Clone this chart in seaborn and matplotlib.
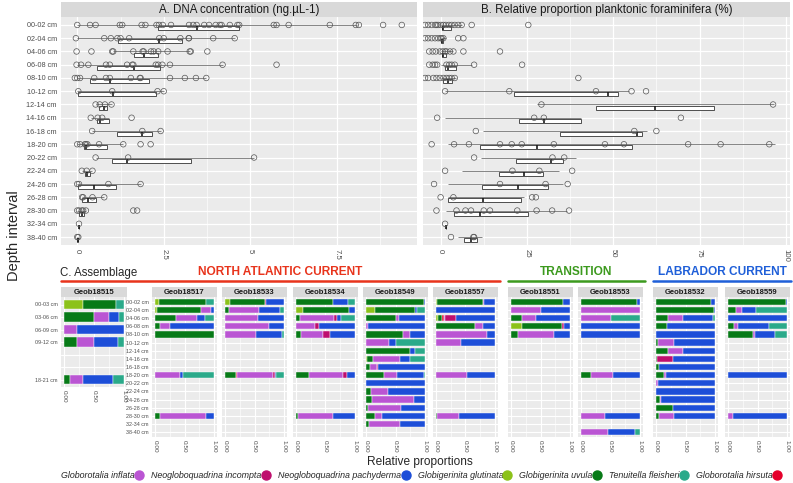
import matplotlib
matplotlib.use("Agg")
import matplotlib.pyplot as plt
from matplotlib.lines import Line2D
import numpy as np
import pandas as pd
import seaborn as sns

sns.set_style("white")
plt.rcParams["font.family"] = ["Liberation Sans", "DejaVu Sans"]

depths = ["00-02 cm", "02-04 cm", "04-06 cm", "06-08 cm", "08-10 cm", "10-12 cm",
          "12-14 cm", "14-16 cm", "16-18 cm", "18-20 cm", "20-22 cm", "22-24 cm",
          "24-26 cm", "26-28 cm", "28-30 cm", "32-34 cm", "38-40 cm"]

# A. DNA concentration, one list of points per depth
dna_points = [
    [0, 0.37, 0.53, 1.23, 1.30, 1.86, 1.97, 2.29, 2.36, 2.47, 2.71, 3.23, 3.35, 3.45, 3.67,
     3.81, 4.00, 4.12, 4.17, 4.41, 4.63, 4.68, 5.68, 5.76, 6.11, 7.30, 8.05, 8.14, 8.84, 9.38],
    [-0.04, 0.78, 0.97, 1.16, 1.25, 1.50, 2.37, 2.50, 2.98, 3.22, 3.23, 3.93, 4.55],
    [-0.02, 0.41, 1.01, 1.04, 1.62, 1.89, 1.92, 2.13, 2.21, 2.34, 2.61, 3.25, 3.28, 3.76],
    [-0.02, 0.11, 0.32, 0.83, 0.94, 1.44, 1.59, 1.62, 2.27, 2.34, 2.46, 2.68, 4.20, 5.76],
    [-0.07, 0.0, 0.08, 0.49, 0.83, 0.94, 1.55, 1.81, 1.83, 2.68, 3.11, 3.43, 3.73],
    [0.03, 1.01, 2.32, 2.50],
    [0.53, 0.65, 0.80, 0.99],
    [0.39, 0.59, 0.72, 1.57],
    [0.43, 1.88, 2.41],
    [0.0, 0.08, 0.22, 0.25, 0.29, 0.63, 1.33, 1.83, 2.12],
    [0.53, 1.47, 5.11],
    [0.13, 0.27, 0.44],
    [0.0, 0.05, 0.90, 1.83],
    [0.14, 0.17, 0.44, 0.78],
    [0.0, 0.05, 0.13, 0.17, 0.25, 1.62, 1.73],
    [0.05],
    [0.0, 0.03],
]
dna_q1 = [2.34, 1.18, 1.65, 0.58, 0.37, 0.01, 0.64, 0.56, 1.14, 0.20, 0.99, 0.22, 0.03, 0.15, 0.05, 0.05, 0.0]
dna_med = [3.45, 2.37, 1.92, 1.64, 0.94, 1.02, 0.77, 0.65, 1.88, 0.25, 1.44, 0.29, 0.48, 0.30, 0.13, 0.05, 0.01]
dna_q3 = [4.68, 3.04, 2.34, 2.39, 2.08, 2.29, 0.87, 0.92, 2.15, 0.85, 3.28, 0.37, 1.13, 0.53, 0.19, 0.05, 0.03]
dna_lo = [0.0, 0.0, 1.04, 0.0, 0.0, 0.0, 0.53, 0.41, 0.43, 0.0, 0.53, 0.13, 0.0, 0.14, 0.0, 0.05, 0.0]
dna_hi = [8.1, 4.55, 3.25, 4.2, 3.73, 2.5, 0.99, 0.92, 2.41, 1.33, 5.11, 0.44, 1.83, 0.78, 0.25, 0.05, 0.03]

# B. relative proportion planktonic foraminifera (%)
pf_points = [
    [-4.5, -3.6, -2.6, -1.6, -1.2, -0.7, 0.1, 0.8, 1.5, 2.4, 3.2, 4.1, 5.1, 6.1, 9.0, 25.4],
    [-4.5, -3.6, -2.6, -1.6, -0.7, 0.0, 0.3, 0.8, 5.1, 6.6],
    [-3.3, -2.3, -1.4, -0.2, 0.6, 1.3, 1.7, 2.7, 3.7, 6.6, 17.2],
    [-3.3, -2.3, -1.6, -1.0, 1.7, 2.5, 3.2, 4.1, 9.7, 23.6],
    [-4.5, -3.6, -2.1, -1.2, -0.2, 0.8, 1.7, 2.5, 3.2, 4.1, 39.9],
    [1.3, 19.9, 45.0, 55.3, 59.5],
    [29.2, 96.3],
    [-1.0, 27.1, 29.9, 69.6],
    [10.2, 56.1, 62.5],
    [-2.6, 3.9, 8.2, 17.2, 20.6, 23.5, 32.8, 47.6, 53.1, 71.7, 81.1, 95.2],
    [9.7, 32.4, 35.8],
    [1.3, 20.8, 28.6, 38.1],
    [-1.9, 17.2, 30.4, 36.8],
    [0.0, 3.7, 26.5, 27.6],
    [-1.2, 4.6, 7.2, 8.8, 12.5, 14.3, 22.2, 27.8, 32.3, 37.2],
    [1.3],
    [3.0, 9.5, 9.7],
]
pf_q1 = [0.3, 0.0, 0.3, 1.3, 0.8, 21.3, 45.0, 22.8, 34.6, 11.5, 21.7, 17.0, 11.9, 2.0, 3.9, 1.7, 6.9]
pf_med = [0.8, 0.3, 0.6, 2.2, 2.2, 48.6, 62.0, 30.0, 56.8, 28.0, 31.9, 24.2, 22.5, 12.4, 11.5, 1.7, 8.8]
pf_q3 = [2.9, 0.6, 1.7, 4.6, 3.2, 51.3, 79.2, 40.8, 58.2, 55.5, 35.5, 29.7, 31.2, 23.2, 25.4, 1.7, 10.4]
pf_lo = [0.0, 0.0, 0.0, 0.0, 0.0, 1.3, 28.0, 1.4, 12.4, 2.2, 11.6, 6.3, 2.0, 2.0, 1.7, 1.7, 5.1]
pf_hi = [6.1, 1.5, 3.7, 9.0, 4.6, 54.6, 96.5, 40.8, 59.7, 96.8, 39.1, 34.4, 35.5, 24.1, 36.5, 1.7, 12.1]

# C. assemblage; proportions in the species order below
species = ["Globigerinita glutinata", "Globigerinita uvula", "Globorotalia hirsuta",
           "Globorotalia inflata", "Neogloboquadrina incompta", "Neogloboquadrina pachyderma",
           "Tenuitella fleisheri"]
sp_colors = ["#8CC21A", "#077A17", "#E5002B", "#BA55D3", "#BE0F6E", "#1D4ED8", "#2BAA8A"]
legend_order = [3, 4, 5, 0, 1, 6, 2]

depths_18515 = ["00-03 cm", "03-06 cm", "06-09 cm", "09-12 cm", " ", "  ", "18-21 cm"]
geob18515 = {
    "00-03 cm": [0.31, 0.56, 0, 0, 0, 0, 0.13],
    "03-06 cm": [0, 0.50, 0, 0.25, 0, 0.16, 0.09],
    "06-09 cm": [0, 0, 0, 0.21, 0, 0.79, 0],
    "09-12 cm": [0, 0.21, 0, 0.29, 0, 0.40, 0.10],
    "18-21 cm": [0, 0.10, 0, 0.22, 0, 0.50, 0.18],
}
geob18517 = {
    "00-02 cm": [0.06, 0.81, 0, 0, 0, 0, 0.13],
    "02-04 cm": [0.03, 0.75, 0, 0.17, 0, 0.05, 0],
    "04-06 cm": [0, 0.35, 0, 0.36, 0, 0.14, 0.15],
    "06-08 cm": [0, 0.08, 0, 0.18, 0, 0.74, 0],
    "08-10 cm": [0, 1.0, 0, 0, 0, 0, 0],
    "18-20 cm": [0, 0, 0, 0.43, 0, 0.04, 0.53],
    "28-30 cm": [0, 0.08, 0, 0.79, 0, 0.13, 0],
}
geob18533 = {
    "00-02 cm": [0.09, 0.59, 0, 0, 0.02, 0.30, 0],
    "02-04 cm": [0, 0.07, 0, 0.51, 0, 0.35, 0.07],
    "04-06 cm": [0, 0, 0, 0.56, 0, 0.44, 0],
    "06-08 cm": [0, 0, 0, 0.75, 0, 0.25, 0],
    "08-10 cm": [0, 0, 0, 0.52, 0, 0.45, 0.03],
    "18-20 cm": [0, 0.18, 0.02, 0.62, 0.02, 0.03, 0.13],
}
geob18534 = {
    "00-02 cm": [0, 0.62, 0, 0, 0, 0.26, 0.12],
    "02-04 cm": [0.12, 0.77, 0, 0, 0, 0.11, 0],
    "04-06 cm": [0, 0.07, 0, 0.58, 0.04, 0.07, 0.24],
    "06-08 cm": [0, 0, 0, 0.33, 0.06, 0.61, 0],
    "08-10 cm": [0, 0.08, 0, 0.37, 0.12, 0.43, 0],
    "18-20 cm": [0, 0.22, 0, 0.58, 0.06, 0.14, 0],
    "28-30 cm": [0, 0.03, 0, 0.59, 0, 0.38, 0],
}
geob18549 = {
    "00-02 cm": [0, 0.99, 0, 0, 0, 0.01, 0],
    "02-04 cm": [0.16, 0.67, 0, 0, 0, 0.03, 0.14],
    "04-06 cm": [0, 0.50, 0, 0.06, 0, 0.44, 0],
    "06-08 cm": [0, 0, 0, 0.03, 0, 0.97, 0],
    "08-10 cm": [0, 0.63, 0, 0.11, 0, 0.26, 0],
    "10-12 cm": [0, 0, 0, 0.39, 0, 0.12, 0.49],
    "12-14 cm": [0, 0.75, 0, 0, 0, 0.08, 0.17],
    "14-16 cm": [0.02, 0.10, 0, 0.45, 0, 0.18, 0.25],
    "16-18 cm": [0, 0.07, 0, 0.11, 0.03, 0.79, 0],
    "18-20 cm": [0, 0.30, 0, 0.23, 0, 0.45, 0.02],
    "20-22 cm": [0, 0, 0, 0, 0, 1.0, 0],
    "22-24 cm": [0, 0.08, 0, 0.30, 0, 0.62, 0],
    "24-26 cm": [0, 0.10, 0, 0.71, 0, 0.19, 0],
    "26-28 cm": [0, 0.03, 0, 0.57, 0, 0.40, 0],
    "28-30 cm": [0, 0.15, 0, 0.12, 0, 0.73, 0],
    "32-34 cm": [0, 0.05, 0, 0.52, 0, 0.43, 0],
}
geob18557 = {
    "00-02 cm": [0.01, 0.78, 0, 0.02, 0, 0.19, 0],
    "02-04 cm": [0, 0, 0, 0, 0, 1.0, 0],
    "04-06 cm": [0.04, 0.07, 0.02, 0.03, 0.18, 0.66, 0],
    "06-08 cm": [0, 0.66, 0, 0.13, 0, 0.21, 0],
    "08-10 cm": [0, 0, 0, 0.87, 0, 0.13, 0],
    "10-12 cm": [0, 0, 0, 0.42, 0, 0.58, 0],
    "18-20 cm": [0, 0, 0, 0.52, 0, 0.48, 0],
    "28-30 cm": [0, 0.02, 0, 0.37, 0, 0.61, 0],
}
geob18551 = {
    "00-02 cm": [0, 0.88, 0, 0, 0, 0.12, 0],
    "02-04 cm": [0, 0, 0, 0.50, 0, 0.50, 0],
    "04-06 cm": [0, 0.19, 0, 0.24, 0, 0.57, 0],
    "06-08 cm": [0.18, 0.68, 0, 0, 0.04, 0.10, 0],
    "08-10 cm": [0, 0.12, 0, 0.61, 0, 0.27, 0],
}
geob18553 = {
    "00-02 cm": [0, 0.94, 0, 0, 0, 0.06, 0],
    "02-04 cm": [0, 0, 0, 1.0, 0, 0, 0],
    "04-06 cm": [0, 0, 0, 0.50, 0, 0, 0.50],
    "06-08 cm": [0, 0, 0, 0, 0, 1.0, 0],
    "08-10 cm": [0, 0, 0, 0, 0, 1.0, 0],
    "18-20 cm": [0, 0.17, 0, 0.37, 0, 0.46, 0],
    "28-30 cm": [0, 0, 0, 0.40, 0, 0.60, 0],
    "38-40 cm": [0, 0, 0, 0.46, 0, 0.45, 0.09],
}
geob18532 = {
    "00-02 cm": [0, 0.93, 0, 0, 0, 0.07, 0],
    "02-04 cm": [0, 0.99, 0, 0, 0, 0.01, 0],
    "04-06 cm": [0, 0.21, 0, 0.24, 0, 0.51, 0.04],
    "06-08 cm": [0, 0.19, 0, 0, 0, 0.81, 0],
    "08-10 cm": [0, 0, 0, 0, 0, 1.0, 0],
    "10-12 cm": [0, 0.04, 0, 0.26, 0, 0.70, 0],
    "12-14 cm": [0, 0.21, 0, 0.25, 0, 0.54, 0],
    "14-16 cm": [0, 0.02, 0, 0, 0.27, 0.71, 0],
    "16-18 cm": [0, 0.05, 0, 0, 0, 0.95, 0],
    "18-20 cm": [0, 0.14, 0, 0.03, 0, 0.83, 0],
    "20-22 cm": [0, 0, 0, 0.04, 0, 0.96, 0],
    "22-24 cm": [0, 0, 0, 0, 0, 1.0, 0],
    "24-26 cm": [0, 0.07, 0, 0.01, 0, 0.92, 0],
    "26-28 cm": [0, 0.29, 0, 0, 0, 0.71, 0],
    "28-30 cm": [0, 0.05, 0, 0.25, 0, 0.70, 0],
}
geob18559 = {
    "00-02 cm": [0, 0.98, 0, 0, 0, 0.02, 0],
    "02-04 cm": [0, 0.14, 0, 0.09, 0, 0.25, 0.52],
    "04-06 cm": [0, 0, 0, 0, 0, 1.0, 0],
    "06-08 cm": [0, 0.11, 0, 0.06, 0, 0.52, 0.31],
    "08-10 cm": [0, 0.43, 0, 0.03, 0, 0.33, 0.21],
    "18-20 cm": [0, 0, 0, 0, 0, 1.0, 0],
    "28-30 cm": [0, 0, 0, 0.08, 0, 0.92, 0],
}

PANEL = "#EBEBEB"
STRIP = "#D9D9D9"
W, H = 793, 483
fig = plt.figure(figsize=(W / 100, H / 100), dpi=100)


def add_ax(l, t, r, b):
    return fig.add_axes([l / W, 1 - b / H, (r - l) / W, (b - t) / H])


def strip(l, t, r, b, text, size, weight="normal"):
    s = add_ax(l, t, r, b)
    s.set_facecolor(STRIP)
    s.set_xticks([])
    s.set_yticks([])
    for sp in s.spines.values():
        sp.set_visible(False)
    s.text(0.5, 0.5, text, ha="center", va="center", fontsize=size,
           fontweight=weight, color="#1A1A1A", transform=s.transAxes)


def box_panel(ax, pts, q1, med, q3, lo, hi, xlim, major, minor, ticklabels, show_y):
    n = len(depths)
    ax.set_facecolor(PANEL)
    df = pd.DataFrame([(d, v) for d, vals in zip(depths, pts) for v in vals],
                      columns=["depth", "value"])
    rows = np.arange(n)
    ax.hlines(rows, lo, hi, color="#555555", lw=0.5, zorder=2)
    stats = [dict(med=m, q1=a, q3=b, whislo=a, whishi=b)
             for a, m, b in zip(q1, med, q3)]
    ax.bxp(stats, positions=rows + 0.23, widths=0.3, orientation="horizontal",
           showfliers=False, showcaps=False, patch_artist=True, manage_ticks=False,
           boxprops=dict(facecolor="white", edgecolor="#333333", linewidth=0.6),
           medianprops=dict(color="#1A1A1A", linewidth=1.2),
           whiskerprops=dict(linewidth=0), zorder=2.5)
    sns.stripplot(data=df, x="value", y="depth", order=depths, jitter=False, ax=ax,
                  size=4, color="white", linewidth=0.5, edgecolor="#555555", zorder=3)
    for c in ax.collections[1:]:
        c.set_facecolor("none")
    ax.set_xlim(*xlim)
    ax.set_ylim(n - 1 + 0.6, -0.6)
    ax.set_xticks(major)
    ax.set_xticklabels(ticklabels, rotation=-90)
    ax.set_xticks(minor, minor=True)
    ax.set_yticks(rows)
    ax.grid(which="major", color="white", lw=0.9)
    ax.grid(which="minor", axis="x", color="white", lw=0.45)
    ax.set_axisbelow(True)
    ax.set_xlabel("")
    ax.set_ylabel("")
    for sp in ax.spines.values():
        sp.set_visible(False)
    ax.tick_params(axis="x", which="major", length=2, color="#333333", labelsize=5.6,
                   labelcolor="#4D4D4D", pad=1)
    ax.tick_params(axis="x", which="minor", length=0)
    if show_y:
        ax.set_yticklabels(depths)
        ax.tick_params(axis="y", length=2, color="#333333", labelsize=5.2,
                       labelcolor="#4D4D4D", pad=1)
    else:
        ax.tick_params(axis="y", length=0, labelleft=False)


def bar_panel(ax, rows, data, show_y, label_size):
    ax.set_facecolor(PANEL)
    pos = np.array([rows.index(d) for d in data])
    vals = np.array(list(data.values()))
    left = np.zeros(len(pos))
    for k, col in enumerate(sp_colors):
        m = vals[:, k] > 0
        ax.barh(pos[m], vals[m, k], left=left[m], height=0.76, color=col,
                edgecolor="white", linewidth=0.3, zorder=2)
        left += vals[:, k]
    n = len(rows)
    ax.set_xlim(-0.05, 1.05)
    ax.set_ylim(n - 1 + 0.6, -0.6)
    ax.set_xticks([0, 0.5, 1])
    ax.set_xticklabels(["0.00", "0.50", "1.00"], rotation=-90)
    ax.set_xticks([0.25, 0.75], minor=True)
    ax.set_yticks(range(n))
    ax.grid(which="major", color="white", lw=0.8)
    ax.grid(which="minor", axis="x", color="white", lw=0.4)
    ax.set_axisbelow(True)
    for sp in ax.spines.values():
        sp.set_visible(False)
    ax.tick_params(axis="x", which="major", length=1.5, color="#333333", labelsize=4.6,
                   labelcolor="#4D4D4D", pad=1)
    ax.tick_params(axis="x", which="minor", length=0)
    if show_y:
        ax.set_yticklabels(rows)
        ax.tick_params(axis="y", length=1.5, color="#333333", labelsize=label_size,
                       labelcolor="#4D4D4D", pad=1)
    else:
        ax.tick_params(axis="y", length=0, labelleft=False)


# top row: A and B
axA = add_ax(61, 17, 417, 245)
strip(61, 2, 417, 17, "A. DNA concentration (ng.\u00b5L-1)", 8.3)
box_panel(axA, dna_points, dna_q1, dna_med, dna_q3, dna_lo, dna_hi, (-0.47, 9.82),
          [0, 2.5, 5, 7.5], [1.25, 3.75, 6.25, 8.75], ["0", "2.5", "5", "7.5"], True)

axB = add_ax(423, 17, 790, 245)
strip(423, 2, 790, 17, "B. Relative proportion planktonic foraminifera (%)", 8.3)
box_panel(axB, pf_points, pf_q1, pf_med, pf_q3, pf_lo, pf_hi, (-5.1, 101.2),
          [0, 25, 50, 75, 100], [12.5, 37.5, 62.5, 87.5], ["0", "25", "50", "75", "100"], False)

fig.text(14 / W, 1 - 236 / H, "Depth interval", rotation=90, ha="center", va="center",
         fontsize=10.5)

# section C headers
fig.text(60 / W, 1 - 273 / H, "C. Assemblage", ha="left", va="center", fontsize=8.3)
headers = [("NORTH ATLANTIC CURRENT", "#E8341C", 61, 500, 280),
           ("TRANSITION", "#3C9A1E", 508, 645, 576),
           ("LABRADOR CURRENT", "#1F5FD8", 653, 791, 722)]
for text, col, x0, x1, xc in headers:
    fig.text(xc / W, 1 - 272 / H, text, ha="center", va="center", fontsize=8.6,
             fontweight="bold", color=col)
    fig.add_artist(Line2D([x0 / W, x1 / W], [1 - 281 / H, 1 - 281 / H],
                          transform=fig.transFigure, color=col, lw=1.8))

# section C panels
ax = add_ax(61, 297, 127, 387)
strip(61, 287, 127, 297, "Geob18515", 5.5, "bold")
bar_panel(ax, depths_18515, geob18515, True, 3.9)

panels = [("Geob18517", geob18517, 152), ("Geob18533", geob18533, 222),
          ("Geob18534", geob18534, 293), ("Geob18549", geob18549, 363),
          ("Geob18557", geob18557, 433), ("Geob18551", geob18551, 508),
          ("Geob18553", geob18553, 578), ("Geob18532", geob18532, 653),
          ("Geob18559", geob18559, 725)]
for i, (name, data, x0) in enumerate(panels):
    ax = add_ax(x0, 297, x0 + 65, 437)
    strip(x0, 287, x0 + 65, 297, name, 5.5, "bold")
    bar_panel(ax, depths, data, i == 0, 3.9)

fig.text(420 / W, 1 - 462 / H, "Relative proportions", ha="center", va="center",
         fontsize=8.6)

handles = [Line2D([], [], marker="o", ls="none", markersize=6.5,
                  markerfacecolor=sp_colors[k], markeredgecolor=sp_colors[k])
           for k in legend_order]
fig.legend(handles, [species[k] for k in legend_order], loc="center",
           bbox_to_anchor=(421 / W, 1 - 476 / H), ncol=7, markerfirst=False,
           frameon=False, handletextpad=0.1, columnspacing=0.95, handlelength=0.8,
           prop=dict(style="italic", size=6.4))

fig.savefig("out.png", dpi=100)
